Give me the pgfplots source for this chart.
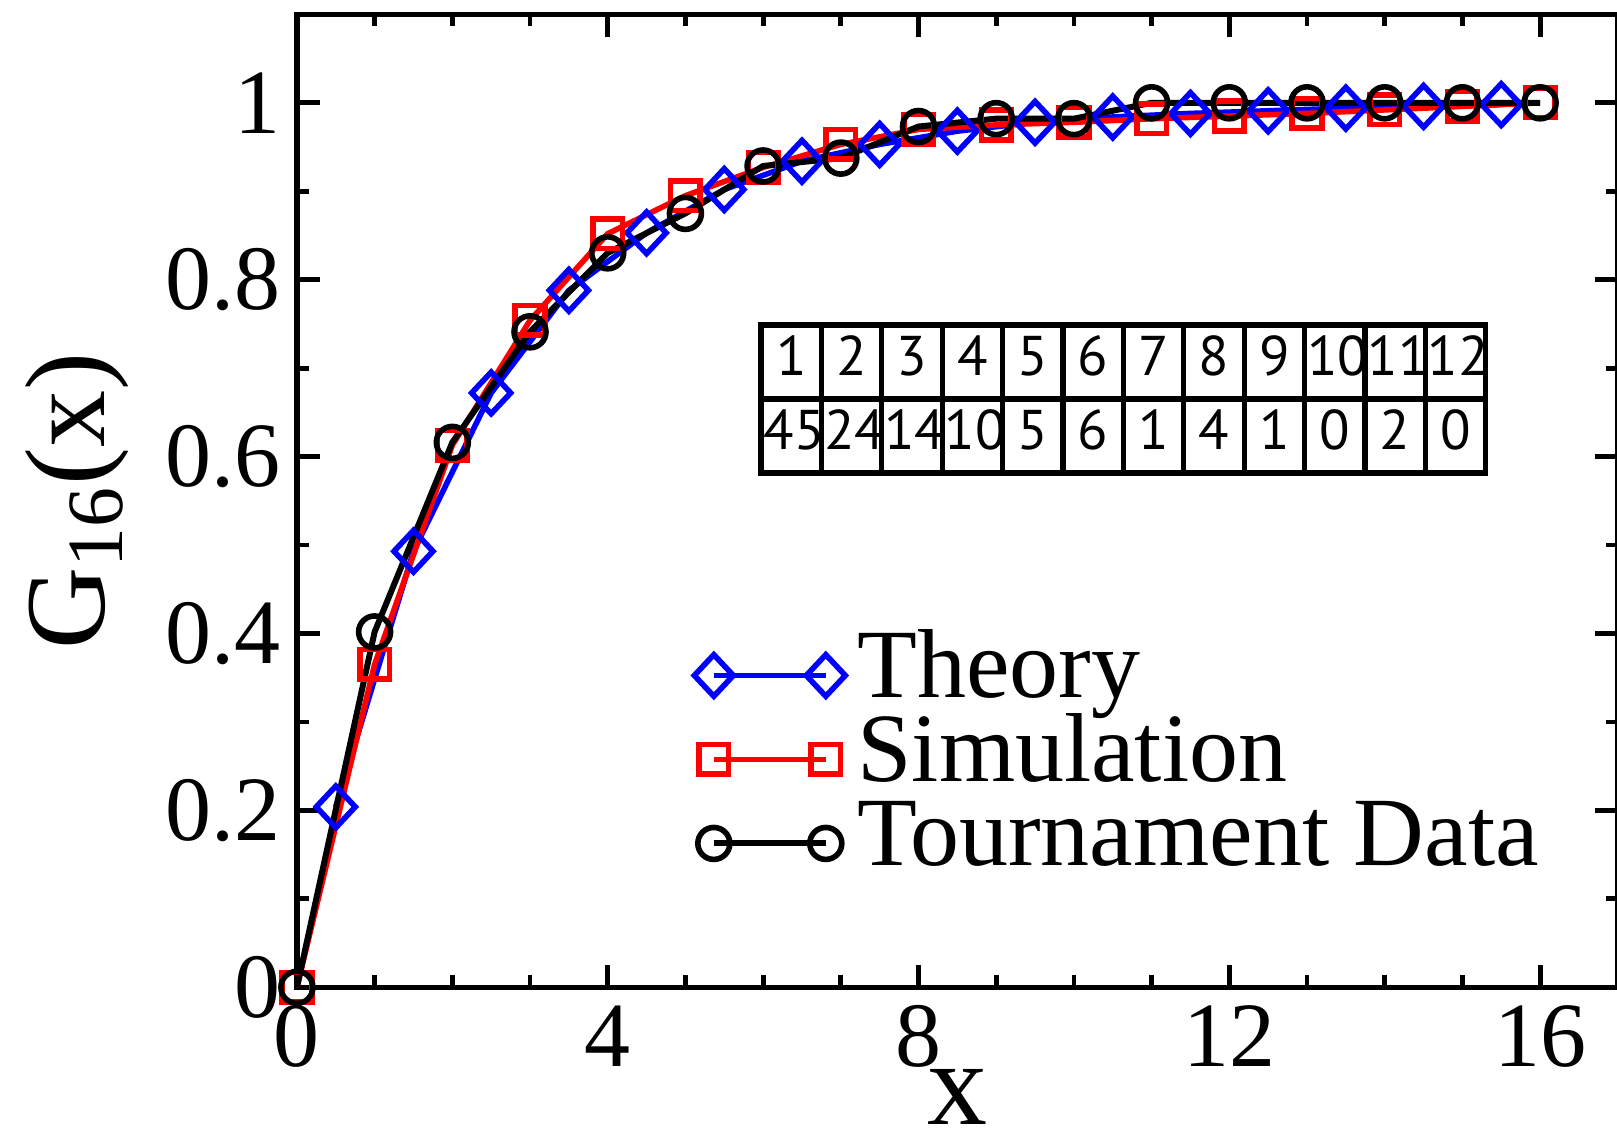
\documentclass[border=0pt]{standalone}
\usepackage{fontspec}
\setmainfont{Liberation Serif}
\newfontfamily\tabfont{PT Sans}
\usepackage{array}
\usepackage{graphicx}
\usepackage{pgfplots}
\pgfplotsset{compat=1.18}
\definecolor{gblue}{RGB}{0,0,255}
\definecolor{gred}{RGB}{255,0,0}
\begin{document}
\begin{tikzpicture}
\begin{axis}[
  scale only axis,
  width=330.3pt, height=243.3pt,
  xmin=0, xmax=17, ymin=0, ymax=1.1,
  xtick={0,4,8,12,16}, minor x tick num=3,
  ytick={0,0.2,0.4,0.6,0.8,1}, minor y tick num=1,
  tick align=inside, tick pos=both,
  major tick length=5.7pt, minor tick length=3pt,
  every tick/.style={line width=1.2pt, black},
  axis line style={line width=1.3pt},
  /pgf/number format/assume math mode=true,
  tick label style={font=\fontsize{23}{26}\selectfont},
  xticklabel style={yshift=-1pt},
  yticklabel style={xshift=-0.5pt},
  xlabel={x}, ylabel={G$_{\mathrm{16}}$(x)},
  xlabel style={font=\fontsize{30}{33}\selectfont, inner sep=0pt, yshift=3pt},
  ylabel style={font=\fontsize{28.5}{32}\selectfont, yshift=2.5pt},
  legend style={draw=none, fill=none, at={(axis cs:4.95,0.41)}, anchor=north west,
    font=\fontsize{24.5}{26}\selectfont, column sep=3pt,
    nodes={inner sep=0pt, text height=16pt, text depth=5pt}},
  legend cell align=left,
  legend image code/.code={\draw plot coordinates {(0pt,0pt) (28pt,0pt)};},
  clip=false,
]
\addplot[gblue, line width=1.4pt, mark=diamond, mark size=5.2pt,
  mark options={solid, line width=1.4pt, xscale=1.25, fill=none}]
  coordinates {(0.5,0.204) (1.5,0.493) (2.5,0.672) (3.5,0.788) (4.5,0.853) (5.5,0.902)
    (6.5,0.934) (7.5,0.953) (8.5,0.968) (9.5,0.978) (10.5,0.984) (11.5,0.988)
    (12.5,0.991) (13.5,0.994) (14.5,0.996) (15.5,0.998)};
\addlegendentry{Theory}
\addplot[gred, line width=1.4pt, mark=square, mark size=3.7pt,
  mark options={solid, line width=1.4pt, fill=none}]
  coordinates {(0,0) (1,0.365) (2,0.613) (3,0.754) (4,0.852) (5,0.895) (6,0.927)
    (7,0.953) (8,0.970) (9,0.975) (10,0.978) (11,0.982) (12,0.985) (13,0.988)
    (14,0.992) (15,0.996) (16,1.0)};
\addlegendentry{Simulation}
\addplot[black, line width=1.5pt, mark=o, mark size=4pt,
  mark options={solid, line width=1.4pt, fill=none}]
  coordinates {(0,0) (1,0.4018) (2,0.6161) (3,0.7411) (4,0.8304) (5,0.875) (6,0.9286)
    (7,0.9375) (8,0.9732) (9,0.9821) (10,0.9821) (11,1) (12,1) (13,1) (14,1) (15,1) (16,1)};
\addlegendentry{Tournament Data}
\node[anchor=north west, inner sep=0pt] at (axis cs:5.93,0.7526) {%
  \tabfont\fontsize{14}{15}\selectfont
  \setlength\tabcolsep{0pt}\setlength\arrayrulewidth{1.3pt}%
  \begin{tabular}{|*{12}{>{\centering\arraybackslash}p{13.8pt}|}}
  \hline
  \rule[-5.2pt]{0pt}{17.2pt}1&2&3&4&5&6&7&8&9&10&11&12\\ \hline
  \rule[-5.2pt]{0pt}{17.2pt}45&24&14&10&5&6&1&4&1&0&2&0\\ \hline
  \end{tabular}};
\end{axis}
\pgfresetboundingbox
\path ([xshift=-74.25pt,yshift=-38pt]current axis.south west) rectangle ([xshift=-0.2pt,yshift=3.6pt]current axis.north east);
\end{tikzpicture}
\end{document}
